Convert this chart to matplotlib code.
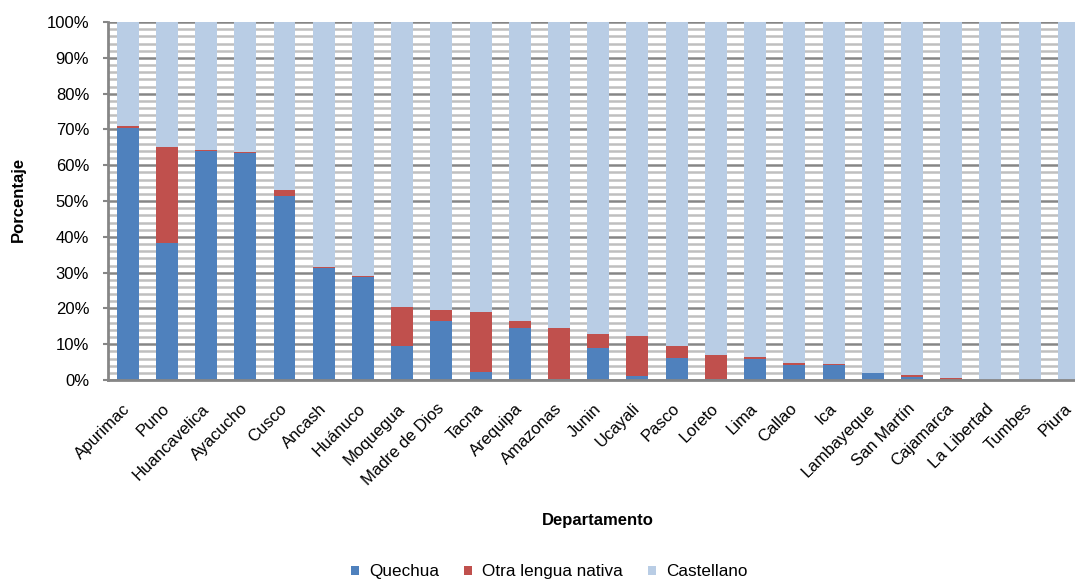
import matplotlib
matplotlib.use("Agg")
import matplotlib.pyplot as plt
import matplotlib.transforms as mtransforms
import numpy as np
from matplotlib.ticker import MultipleLocator, FuncFormatter

plt.rcParams['font.family'] = ['Liberation Sans', 'DejaVu Sans']

departamentos = ["Apurimac", "Puno", "Huancavelica", "Ayacucho", "Cusco", "Ancash",
                 "Huánuco", "Moquegua", "Madre de Dios", "Tacna", "Arequipa", "Amazonas",
                 "Junin", "Ucayali", "Pasco", "Loreto", "Lima", "Callao", "Ica",
                 "Lambayeque", "San Martín", "Cajamarca", "La Libertad", "Tumbes", "Piura"]
quechua = [70.5, 38.2, 64.0, 63.3, 51.5, 31.4, 28.7, 9.6, 16.5, 2.3, 14.6, 0.3,
           9.0, 1.2, 6.2, 0.4, 5.9, 4.2, 4.1, 2.0, 0.8, 0.1, 0.1, 0.05, 0.05]
otra = [0.5, 27.0, 0.3, 0.3, 1.5, 0.1, 0.3, 10.7, 3.0, 16.6, 1.9, 14.3,
        4.0, 11.0, 3.3, 6.7, 0.4, 0.5, 0.4, 0.05, 0.7, 0.4, 0.05, 0.0, 0.0]
castellano = [100 - q - o for q, o in zip(quechua, otra)]

c_q = "#4F81BD"
c_o = "#C0504D"
c_c = "#B9CDE5"

fig = plt.figure(figsize=(10.75, 5.82), dpi=100)
ax = fig.add_axes([0.1005, 0.347, 0.912, 0.615])

x = np.arange(len(departamentos))
w = 0.56
q = np.array(quechua)
o = np.array(otra)
c = np.array(castellano)
ax.bar(x, q, w, color=c_q, label="Quechua", zorder=3)
ax.bar(x, o, w, bottom=q, color=c_o, label="Otra lengua nativa", zorder=3)
ax.bar(x, c, w, bottom=q + o, color=c_c, label="Castellano", zorder=3)

ax.set_xlim(-0.5, len(departamentos) - 0.5)
ax.set_ylim(0, 100)
ax.yaxis.set_major_locator(MultipleLocator(10))
ax.yaxis.set_minor_locator(MultipleLocator(2))
ax.yaxis.set_major_formatter(FuncFormatter(lambda v, p: f"{int(v)}%"))
ax.grid(which='minor', axis='y', color='#BFBFBF', linewidth=1.8, zorder=1)
ax.grid(which='major', axis='y', color='#868686', linewidth=1.8, zorder=2)

for s in ['top', 'right']:
    ax.spines[s].set_visible(False)
for s in ['left', 'bottom']:
    ax.spines[s].set_color('#868686')
    ax.spines[s].set_linewidth(2)
    ax.spines[s].set_zorder(4)

ax.tick_params(axis='y', which='major', length=3.6, width=1.5, color='#868686',
               labelsize=12, pad=10)
ax.tick_params(axis='y', which='minor', length=0)
ax.tick_params(axis='x', length=0, pad=15)
ax.set_xticks(x)
ax.set_xticklabels(departamentos, rotation=45, ha='right', rotation_mode='anchor',
                   fontsize=12)
offset = mtransforms.ScaledTranslation(-5 / 100, 0, fig.dpi_scale_trans)
for lab in ax.get_xticklabels():
    lab.set_transform(lab.get_transform() + offset)

fig.text(0.017, 0.657, "Porcentaje", rotation=90, ha='center', va='center',
         fontsize=12, fontweight='bold')
fig.text(0.556, 0.105, "Departamento", ha='center', va='center',
         fontsize=12, fontweight='bold')

handles, labels = ax.get_legend_handles_labels()
leg = fig.legend(handles, labels, loc='lower center', bbox_to_anchor=(0.511, -0.022),
                 ncol=3, frameon=False, fontsize=12.3, handlelength=0.47,
                 handleheight=0.47, columnspacing=1.45, handletextpad=0.6)

fig.savefig("out.png", dpi=100)
